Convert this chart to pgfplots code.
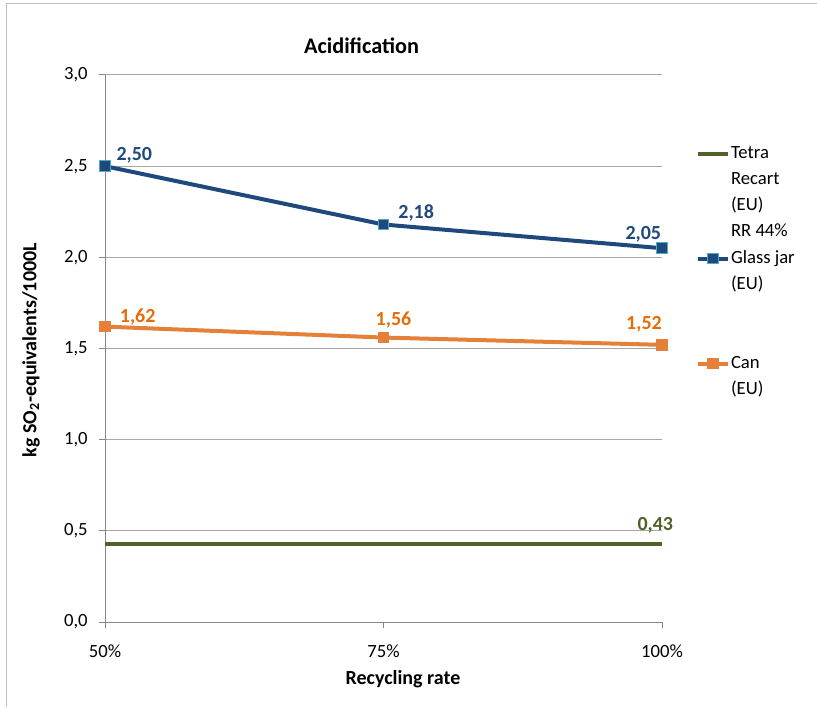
\documentclass[border=0pt]{standalone}
\usepackage{pgfplots}
\pgfplotsset{compat=1.18}
\usepackage{pgfplotstable}
\usepackage{fontspec}
\setmainfont{Carlito}
\definecolor{tgreen}{RGB}{79,98,40}
\definecolor{gblue}{RGB}{31,73,125}
\definecolor{gedge}{RGB}{75,172,198}
\definecolor{corange}{RGB}{228,128,56}
\definecolor{clabel}{RGB}{228,108,10}
\definecolor{axgray}{RGB}{134,134,134}
\definecolor{gridgray}{RGB}{166,166,166}
\definecolor{framegray}{RGB}{191,191,191}

\pgfplotstableread{
x y lab dx dy
0 2.50 2,50 22 8
1 2.18 2,18 24.5 9
2 2.05 2,05 -14 10.5
}\glass
\pgfplotstableread{
x y lab dx dy
0 1.62 1,62 24.5 7
1 1.56 1,56 7.5 13.5
2 1.52 1,52 -13.5 15.7
}\can
\pgfplotstableread{
x y
0 0.43
1 0.43
2 0.43
}\tetra
\pgfplotstableread{
x y lab dx dy
2 0.43 0,43 -5 13.5
}\tetralab

\begin{document}
\begin{tikzpicture}
\useasboundingbox (0,0) rectangle (612.75pt,530.25pt);
\draw[framegray, line width=0.75pt] (4.5pt,0) -- (4.5pt,527.25pt) -- (613pt,527.25pt);
\begin{axis}[
  at={(78.75pt,63.75pt)}, anchor=south west,
  scale only axis, width=417.75pt, height=410.25pt,
  xmin=0, xmax=2, ymin=0, ymax=3,
  xtick={0,1,2}, xticklabels={50\%,75\%,100\%},
  ytick={0,0.5,1,1.5,2,2.5,3},
  axis lines*=left,
  axis line style={axgray, line width=0.75pt},
  ymajorgrids, grid style={gridgray, line width=0.75pt},
  tick align=outside, major tick length=4.5pt,
  tick style={axgray, line width=0.75pt},
  /pgf/number format/assume math mode=true,
  yticklabel style={/pgf/number format/.cd, fixed, fixed zerofill, precision=1, use comma, /tikz/.cd, xshift=-5pt},
  xticklabel style={yshift=-9pt},
  tick label style={font=\fontsize{14}{16}\selectfont, black},
  every axis title shift=0pt,
  title={Acidification},
  title style={at={(axis description cs:0.4605,1.053)}, anchor=center, font=\bfseries\fontsize{16.7}{19}\selectfont},
  xlabel={Recycling rate},
  xlabel style={at={(axis description cs:0.535,-0.104)}, anchor=center, font=\bfseries\fontsize{15}{18}\selectfont},
  ylabel={kg SO\textsubscript{2}-equivalents/1000L},
  ylabel style={at={(axis description cs:-0.1329,0.497)}, anchor=center, font=\bfseries\fontsize{15}{18}\selectfont},
  legend style={at={(axis description cs:1.060,0.8728)}, anchor=north west, draw=none, fill=none, inner sep=0pt, row sep=6.7pt, column sep=1pt, font=\fontsize{14}{16}\selectfont, nodes={inner sep=0pt, text height=10pt, text depth=3pt}},
  legend cell align=left,
  legend image code/.code={\draw[mark repeat=2,mark phase=2,#1] plot coordinates {(0pt,0pt)(11.25pt,0pt)(22.5pt,0pt)};},
]
\addplot[tgreen, line width=3pt, mark=none] table[x=x,y=y]{\tetra};
\addlegendentry{Tetra}
\addlegendimage{empty legend}\addlegendentry{Recart}
\addlegendimage{empty legend}\addlegendentry{(EU)}
\addlegendimage{empty legend}\addlegendentry{RR 44\%}
\addplot[gblue, line width=3pt, mark=square*, mark size=4pt,
  mark options={fill=gblue, draw=gedge, line width=0.75pt},
  nodes near coords, point meta=explicit symbolic,
  visualization depends on={\thisrow{dx} \as \dx},
  visualization depends on={\thisrow{dy} \as \dy},
  every node near coord/.append style={anchor=center, xshift=\dx pt, yshift=\dy pt, text=gblue, font=\bfseries\fontsize{15}{18}\selectfont}]
  table[x=x,y=y,meta=lab]{\glass};
\addlegendentry{Glass jar}
\addlegendimage{empty legend}\addlegendentry{(EU)}
\addlegendimage{empty legend}\addlegendentry{}
\addlegendimage{empty legend}\addlegendentry{}
\addplot[corange, line width=3pt, mark=square*, mark size=4pt,
  mark options={fill=corange, draw=corange, line width=0.75pt},
  nodes near coords, point meta=explicit symbolic,
  visualization depends on={\thisrow{dx} \as \dx},
  visualization depends on={\thisrow{dy} \as \dy},
  every node near coord/.append style={anchor=center, xshift=\dx pt, yshift=\dy pt, text=clabel, font=\bfseries\fontsize{15}{18}\selectfont}]
  table[x=x,y=y,meta=lab]{\can};
\addlegendentry{Can}
\addlegendimage{empty legend}\addlegendentry{(EU)}
\addplot[forget plot, draw=none, mark=none,
  nodes near coords, point meta=explicit symbolic,
  visualization depends on={\thisrow{dx} \as \dx},
  visualization depends on={\thisrow{dy} \as \dy},
  every node near coord/.append style={anchor=center, xshift=\dx pt, yshift=\dy pt, text=tgreen, font=\bfseries\fontsize{15}{18}\selectfont}]
  table[x=x,y=y,meta=lab]{\tetralab};
\end{axis}
\end{tikzpicture}
\end{document}
